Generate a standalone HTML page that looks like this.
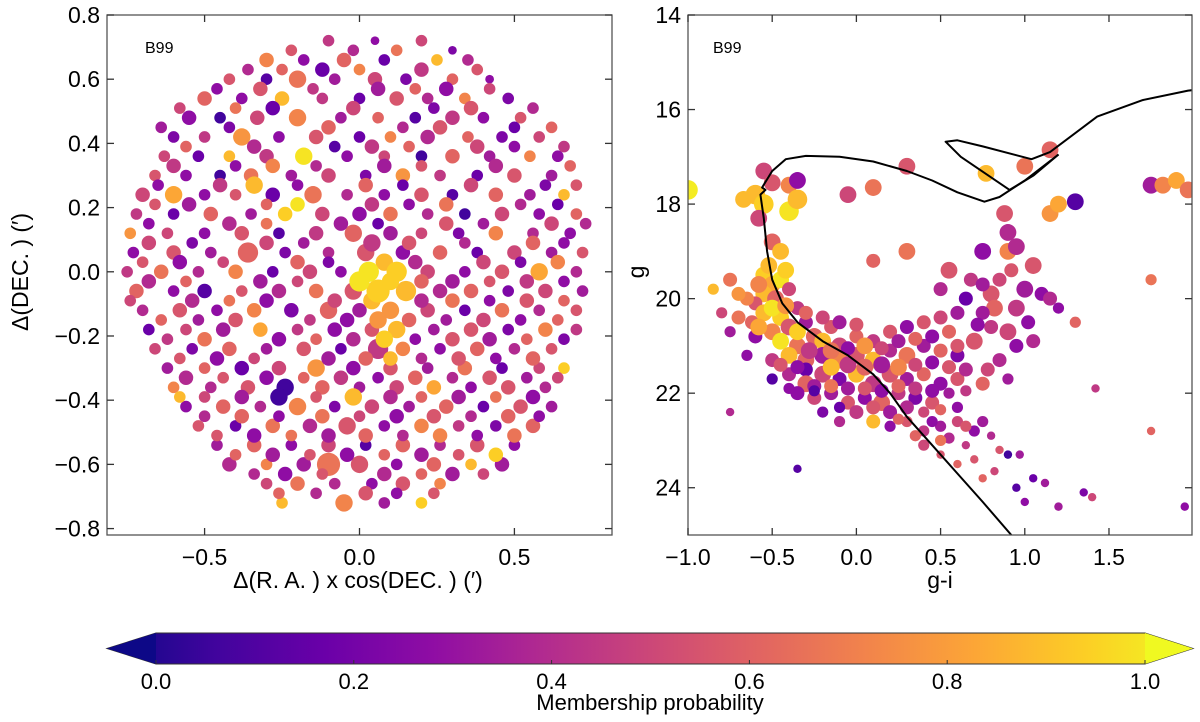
<!DOCTYPE html>
<html><head><meta charset="utf-8">
<style>
html,body{margin:0;padding:0;background:#fff;}
svg{display:block;font-family:"Liberation Sans","DejaVu Sans",sans-serif;}
</style></head>
<body>
<svg id="fig" width="1200" height="722" viewBox="0 0 1200 722" xmlns="http://www.w3.org/2000/svg">
<defs>
<clipPath id="clipL"><rect x="107" y="15" width="505" height="520"/></clipPath>
<clipPath id="clipR"><rect x="688" y="15" width="504" height="520"/></clipPath>
<linearGradient id="plasma" x1="0" x2="1" y1="0" y2="0">
<stop offset="0" stop-color="#0d0887"/><stop offset="0.1" stop-color="#41049d"/><stop offset="0.2" stop-color="#6a00a8"/><stop offset="0.3" stop-color="#8f0da4"/><stop offset="0.4" stop-color="#b12a90"/><stop offset="0.5" stop-color="#cc4778"/><stop offset="0.6" stop-color="#e16462"/><stop offset="0.7" stop-color="#f2844b"/><stop offset="0.8" stop-color="#fca636"/><stop offset="0.9" stop-color="#fcce25"/><stop offset="1" stop-color="#f0f921"/>
</linearGradient>
</defs>
<g id="leftPts" clip-path="url(#clipL)"></g>
<g id="rightPts" clip-path="url(#clipR)"></g>
<g id="iso" clip-path="url(#clipR)"></g>
<g id="axes"></g>
<text x="145" y="53" font-size="16">B99</text>
<text x="713" y="53" font-size="16">B99</text>
<text x="358" y="588" font-size="23" text-anchor="middle">Δ(R. A. ) x cos(DEC. ) (′)</text>
<text transform="translate(28,272) rotate(-90)" font-size="23" text-anchor="middle">Δ(DEC. ) (′)</text>
<text x="940" y="588" font-size="23" text-anchor="middle">g-i</text>
<text transform="translate(644,272) rotate(-90)" font-size="23" text-anchor="middle">g</text>
<g>
<polygon points="107,648.5 156,633 1145,633 1193,648.5 1145,664 156,664" fill="url(#plasma)" stroke="#333" stroke-width="1"/>
<polygon points="107,648.5 156,633 156,664" fill="#0d0887"/>
<polygon points="1193,648.5 1145,633 1145,664" fill="#f0f921"/>
<g id="cbTicks"></g>
<text x="650" y="710" font-size="22" text-anchor="middle">Membership probability</text>
</g>
</svg>
<script>
// ---- data ----
// left panel: [dRA, dDEC, probability, size]
const leftStars = [
[-0.1,0.72,0.45,4],[0.05,0.72,0.3,3],[0.2,0.72,0.5,4],
[-0.3,0.66,0.7,5],[-0.18,0.66,0.3,4],[-0.05,0.66,0.6,5],[0.08,0.66,0.2,4],[0.25,0.66,0.85,4],[0.35,0.66,0.4,4],
[-0.42,0.6,0.55,4],[-0.3,0.6,0.15,4],[-0.2,0.6,0.65,6],[-0.08,0.6,0.35,4],[0.05,0.6,0.5,5],[0.15,0.6,0.25,4],[0.3,0.6,0.6,4],[0.42,0.6,0.3,3],
[-0.5,0.54,0.6,5],[-0.38,0.54,0.3,4],[-0.25,0.54,0.85,5],[-0.12,0.54,0.45,4],[0.0,0.54,0.2,4],[0.12,0.54,0.55,5],[0.22,0.54,0.4,4],[0.34,0.54,0.7,4],[0.48,0.54,0.25,4],
[-0.55,0.48,0.3,5],[-0.45,0.48,0.1,4],[-0.33,0.48,0.5,5],[-0.2,0.48,0.7,6],[-0.06,0.48,0.35,4],[0.06,0.48,0.6,4],[0.18,0.48,0.15,4],[0.3,0.48,0.45,5],[0.4,0.48,0.3,4],[0.52,0.48,0.55,4],
[-0.6,0.42,0.25,4],[-0.5,0.42,0.45,4],[-0.38,0.42,0.75,6],[-0.26,0.42,0.3,4],[-0.14,0.42,0.55,5],[0.0,0.42,0.2,4],[0.1,0.42,0.7,4],[0.22,0.42,0.4,5],[0.35,0.42,0.6,4],[0.46,0.42,0.25,4],[0.58,0.42,0.5,4],
[-0.63,0.36,0.5,4],[-0.52,0.36,0.2,4],[-0.42,0.36,0.85,4],[-0.3,0.36,0.45,5],[-0.18,0.36,0.95,6],[-0.04,0.36,0.3,4],[0.08,0.36,0.5,4],[0.2,0.36,0.1,4],[0.3,0.36,0.6,5],[0.42,0.36,0.35,4],[0.55,0.36,0.7,4],[0.64,0.36,0.3,4],
[-0.66,0.3,0.55,4],[-0.56,0.3,0.3,4],[-0.45,0.3,0.1,4],[-0.35,0.3,0.65,5],[-0.22,0.3,0.35,4],[-0.1,0.3,0.5,5],[0.02,0.3,0.25,4],[0.14,0.3,0.75,5],[0.26,0.3,0.45,4],[0.38,0.3,0.2,4],[0.5,0.3,0.55,5],[0.62,0.3,0.35,4],
[-0.7,0.24,0.5,5],[-0.6,0.24,0.8,6],[-0.5,0.24,0.3,4],[-0.4,0.24,0.55,4],[-0.28,0.24,0.2,5],[-0.15,0.24,0.65,6],[-0.04,0.24,0.4,4],[0.08,0.24,0.3,4],[0.2,0.24,0.55,5],[0.3,0.24,0.15,4],[0.44,0.24,0.6,5],[0.55,0.24,0.35,4],[0.66,0.24,0.85,4],
[-0.72,0.18,0.45,4],[-0.6,0.18,0.2,4],[-0.48,0.18,0.6,5],[-0.35,0.18,0.35,4],[-0.24,0.18,0.9,5],[-0.12,0.18,0.5,5],[0.0,0.18,0.3,5],[0.1,0.18,0.65,5],[0.22,0.18,0.4,4],[0.34,0.18,0.1,4],[0.46,0.18,0.5,5],[0.58,0.18,0.3,4],[0.7,0.18,0.6,4],
[-0.74,0.12,0.75,4],[-0.62,0.12,0.5,4],[-0.5,0.12,0.3,4],[-0.38,0.12,0.55,5],[-0.26,0.12,0.15,4],[-0.14,0.12,0.45,5],[-0.02,0.12,0.6,6],[0.1,0.12,0.35,5],[0.2,0.12,0.5,4],[0.32,0.12,0.25,4],[0.44,0.12,0.7,5],[0.56,0.12,0.4,4],[0.68,0.12,0.3,4],
[-0.73,0.06,0.3,4],[-0.6,0.06,0.55,5],[-0.48,0.06,0.35,4],[-0.36,0.06,0.6,7],[-0.24,0.06,0.25,4],[-0.1,0.06,0.4,4],[0.02,0.06,0.55,6],[0.14,0.06,0.3,5],[0.26,0.06,0.6,5],[0.38,0.06,0.2,4],[0.5,0.06,0.5,5],[0.62,0.06,0.35,4],[0.72,0.06,0.55,4],
[-0.75,0.0,0.45,4],[-0.64,0.0,0.65,5],[-0.52,0.0,0.4,4],[-0.4,0.0,0.7,5],[-0.28,0.0,0.2,4],[-0.16,0.0,0.5,5],[-0.06,0.0,0.3,4],[0.22,0.0,0.5,5],[0.34,0.0,0.3,4],[0.46,0.0,0.55,5],[0.58,0.0,0.8,6],[0.7,0.0,0.4,4],
[-0.72,-0.06,0.6,5],[-0.6,-0.06,0.3,4],[-0.5,-0.06,0.15,5],[-0.38,-0.06,0.55,4],[-0.26,-0.06,0.4,5],[-0.14,-0.06,0.65,5],[-0.02,-0.06,0.55,6],[0.26,-0.06,0.4,5],[0.36,-0.06,0.6,5],[0.48,-0.06,0.25,4],[0.6,-0.06,0.5,5],[0.72,-0.06,0.35,4],
[-0.7,-0.12,0.4,4],[-0.58,-0.12,0.55,5],[-0.46,-0.12,0.3,4],[-0.34,-0.12,0.7,5],[-0.22,-0.12,0.25,5],[-0.1,-0.12,0.6,6],[0.0,-0.12,0.35,5],[0.1,-0.12,0.75,6],[0.22,-0.12,0.5,5],[0.34,-0.12,0.2,4],[0.46,-0.12,0.65,5],[0.58,-0.12,0.4,4],[0.7,-0.12,0.55,4],
[-0.68,-0.18,0.2,4],[-0.56,-0.18,0.5,4],[-0.44,-0.18,0.35,5],[-0.32,-0.18,0.8,5],[-0.2,-0.18,0.45,4],[-0.08,-0.18,0.3,5],[0.04,-0.18,0.55,5],[0.12,-0.18,0.85,6],[0.24,-0.18,0.35,4],[0.36,-0.18,0.55,5],[0.48,-0.18,0.25,4],[0.6,-0.18,0.7,5],[0.7,-0.18,0.45,4],
[-0.66,-0.24,0.5,4],[-0.54,-0.24,0.25,4],[-0.42,-0.24,0.6,5],[-0.3,-0.24,0.35,4],[-0.18,-0.24,0.55,5],[-0.06,-0.24,0.2,4],[0.06,-0.24,0.45,7],[0.14,-0.24,0.7,5],[0.26,-0.24,0.3,4],[0.38,-0.24,0.6,5],[0.5,-0.24,0.4,4],[0.62,-0.24,0.55,4],
[-0.62,-0.3,0.35,4],[-0.5,-0.3,0.6,4],[-0.38,-0.3,0.2,5],[-0.26,-0.3,0.5,5],[-0.14,-0.3,0.75,6],[-0.02,-0.3,0.3,5],[0.1,-0.3,0.55,5],[0.22,-0.3,0.35,4],[0.34,-0.3,0.65,5],[0.46,-0.3,0.2,4],[0.58,-0.3,0.5,4],[0.66,-0.3,0.9,4],
[-0.6,-0.36,0.7,4],[-0.48,-0.36,0.4,4],[-0.36,-0.36,0.55,5],[-0.24,-0.36,0.1,6],[-0.12,-0.36,0.6,5],[0.0,-0.36,0.35,4],[0.12,-0.36,0.5,5],[0.24,-0.36,0.8,5],[0.36,-0.36,0.3,4],[0.48,-0.36,0.55,5],[0.6,-0.36,0.4,4],
[-0.56,-0.42,0.3,4],[-0.44,-0.42,0.6,5],[-0.32,-0.42,0.4,4],[-0.2,-0.42,0.7,6],[-0.08,-0.42,0.25,4],[0.04,-0.42,0.5,5],[0.16,-0.42,0.35,4],[0.28,-0.42,0.6,5],[0.4,-0.42,0.2,4],[0.52,-0.42,0.55,5],[0.62,-0.42,0.35,4],
[-0.52,-0.48,0.55,4],[-0.4,-0.48,0.2,4],[-0.28,-0.48,0.65,5],[-0.16,-0.48,0.4,5],[-0.04,-0.48,0.55,6],[0.08,-0.48,0.3,4],[0.2,-0.48,0.7,5],[0.32,-0.48,0.45,4],[0.44,-0.48,0.25,4],[0.56,-0.48,0.6,5],
[-0.46,-0.54,0.35,4],[-0.34,-0.54,0.6,5],[-0.22,-0.54,0.3,4],[-0.1,-0.54,0.5,5],[0.02,-0.54,0.15,4],[0.14,-0.54,0.6,5],[0.26,-0.54,0.4,4],[0.38,-0.54,0.55,5],[0.5,-0.54,0.3,4],
[-0.42,-0.6,0.4,5],[-0.3,-0.6,0.7,4],[-0.18,-0.6,0.35,5],[-0.1,-0.6,0.65,8],[0.0,-0.6,0.55,6],[0.12,-0.6,0.3,4],[0.24,-0.6,0.6,5],[0.36,-0.6,0.85,4],[0.46,-0.6,0.35,5],
[-0.3,-0.66,0.5,4],[-0.2,-0.66,0.65,5],[-0.08,-0.66,0.4,4],[0.04,-0.66,0.3,4],[0.14,-0.66,0.55,5],[0.26,-0.66,0.7,4],
[-0.25,-0.72,0.85,4],[-0.05,-0.72,0.7,6],[0.08,-0.72,0.35,4],[0.2,-0.72,0.9,4],
[-0.22,0.69,0.55,4],[-0.02,0.69,0.4,4],[0.12,0.69,0.65,4],[0.3,0.69,0.25,3],
[-0.36,0.63,0.4,4],[-0.25,0.63,0.6,4],[-0.12,0.63,0.2,5],[0.0,0.63,0.7,4],[0.2,0.63,0.45,5],[0.38,0.63,0.55,4],
[-0.46,0.57,0.3,4],[-0.32,0.57,0.55,5],[-0.15,0.57,0.45,4],[0.06,0.57,0.35,5],[0.18,0.57,0.6,4],[0.28,0.57,0.3,5],[0.42,0.57,0.5,4],
[-0.58,0.51,0.5,4],[-0.4,0.51,0.65,4],[-0.28,0.51,0.2,5],[-0.02,0.51,0.5,5],[0.24,0.51,0.25,4],[0.36,0.51,0.55,5],[0.56,0.51,0.4,4],
[-0.64,0.45,0.35,4],[-0.42,0.45,0.25,4],[-0.1,0.45,0.6,5],[0.14,0.45,0.4,4],[0.26,0.45,0.55,5],[0.5,0.45,0.2,4],[0.62,0.45,0.6,4],
[-0.56,0.39,0.6,4],[-0.34,0.39,0.4,5],[-0.08,0.39,0.15,4],[0.04,0.39,0.45,5],[0.16,0.39,0.6,4],[0.38,0.39,0.5,5],[0.5,0.39,0.3,4],[0.66,0.39,0.45,4],
[-0.6,0.33,0.45,5],[-0.4,0.33,0.3,4],[-0.28,0.33,0.7,5],[-0.14,0.33,0.4,4],[0.08,0.33,0.35,5],[0.2,0.33,0.55,4],[0.44,0.33,0.4,5],[0.68,0.33,0.6,4],
[-0.65,0.27,0.3,4],[-0.45,0.27,0.45,5],[-0.34,0.27,0.85,6],[-0.2,0.27,0.3,4],[0.02,0.27,0.6,5],[0.14,0.27,0.2,4],[0.36,0.27,0.5,5],[0.6,0.27,0.25,4],[0.7,0.27,0.55,4],
[-0.66,0.21,0.55,4],[-0.55,0.21,0.35,5],[-0.3,0.21,0.6,4],[-0.2,0.21,0.95,5],[0.04,0.21,0.45,5],[0.16,0.21,0.3,4],[0.28,0.21,0.65,5],[0.52,0.21,0.4,4],[0.64,0.21,0.2,4],
[-0.68,0.15,0.3,4],[-0.42,0.15,0.4,5],[-0.3,0.15,0.65,4],[-0.06,0.15,0.35,5],[0.06,0.15,0.2,4],[0.28,0.15,0.55,5],[0.4,0.15,0.35,4],[0.62,0.15,0.5,5],[0.73,0.15,0.4,4],
[-0.68,0.09,0.5,5],[-0.54,0.09,0.25,4],[-0.3,0.09,0.5,5],[-0.18,0.09,0.35,4],[0.04,0.09,0.45,6],[0.16,0.09,0.55,5],[0.34,0.09,0.4,4],[0.56,0.09,0.6,5],[0.66,0.09,0.3,4],
[-0.7,0.03,0.55,4],[-0.58,0.03,0.3,5],[-0.44,0.03,0.5,4],[-0.2,0.03,0.6,5],[-0.1,0.03,0.25,4],[0.08,0.03,0.85,6],[0.18,0.03,0.4,5],[0.4,0.03,0.5,5],[0.52,0.03,0.25,4],[0.64,0.03,0.7,5],
[-0.68,-0.03,0.4,5],[-0.56,-0.03,0.6,4],[-0.32,-0.03,0.35,5],[-0.2,-0.03,0.5,4],[0.2,-0.03,0.6,5],[0.3,-0.03,0.35,5],[0.42,-0.03,0.55,4],[0.54,-0.03,0.45,5],[0.66,-0.03,0.3,4],
[-0.74,-0.09,0.5,4],[-0.54,-0.09,0.4,5],[-0.42,-0.09,0.65,4],[-0.3,-0.09,0.3,5],[-0.08,-0.09,0.5,5],[0.04,-0.09,0.85,6],[0.2,-0.09,0.4,5],[0.3,-0.09,0.65,5],[0.42,-0.09,0.3,4],[0.54,-0.09,0.55,5],[0.66,-0.09,0.6,4],
[-0.64,-0.15,0.6,4],[-0.52,-0.15,0.35,4],[-0.4,-0.15,0.55,5],[-0.16,-0.15,0.45,4],[-0.04,-0.15,0.3,5],[0.06,-0.15,0.75,6],[0.16,-0.15,0.6,5],[0.28,-0.15,0.35,4],[0.4,-0.15,0.5,5],[0.52,-0.15,0.3,4],[0.64,-0.15,0.6,4],
[-0.62,-0.21,0.45,4],[-0.5,-0.21,0.65,5],[-0.26,-0.21,0.3,5],[-0.14,-0.21,0.6,4],[-0.02,-0.21,0.4,5],[0.08,-0.21,0.9,6],[0.18,-0.21,0.3,4],[0.3,-0.21,0.55,5],[0.42,-0.21,0.35,5],[0.54,-0.21,0.6,4],[0.66,-0.21,0.25,4],
[-0.58,-0.27,0.55,4],[-0.46,-0.27,0.3,5],[-0.34,-0.27,0.5,4],[-0.1,-0.27,0.35,5],[0.02,-0.27,0.6,5],[0.1,-0.27,0.85,5],[0.2,-0.27,0.4,4],[0.32,-0.27,0.55,5],[0.44,-0.27,0.3,4],[0.56,-0.27,0.6,5],
[-0.56,-0.33,0.4,5],[-0.44,-0.33,0.55,4],[-0.3,-0.33,0.3,5],[-0.18,-0.33,0.6,4],[-0.06,-0.33,0.45,5],[0.06,-0.33,0.3,4],[0.18,-0.33,0.6,5],[0.3,-0.33,0.4,4],[0.42,-0.33,0.55,5],[0.54,-0.33,0.35,4],[0.64,-0.33,0.5,4],
[-0.58,-0.39,0.85,4],[-0.5,-0.39,0.5,4],[-0.38,-0.39,0.35,5],[-0.26,-0.39,0.1,6],[-0.14,-0.39,0.55,4],[-0.02,-0.39,0.85,6],[0.1,-0.39,0.4,5],[0.2,-0.39,0.6,4],[0.32,-0.39,0.35,5],[0.44,-0.39,0.65,4],[0.56,-0.39,0.3,5],
[-0.5,-0.45,0.4,4],[-0.38,-0.45,0.6,5],[-0.26,-0.45,0.3,4],[-0.12,-0.45,0.65,5],[0.0,-0.45,0.5,4],[0.12,-0.45,0.3,5],[0.24,-0.45,0.55,5],[0.36,-0.45,0.4,4],[0.48,-0.45,0.6,5],[0.58,-0.45,0.3,4],
[-0.46,-0.51,0.55,4],[-0.34,-0.51,0.3,5],[-0.22,-0.51,0.65,4],[-0.1,-0.51,0.35,5],[0.02,-0.51,0.6,5],[0.14,-0.51,0.4,4],[0.26,-0.51,0.7,5],[0.38,-0.51,0.3,4],[0.5,-0.51,0.65,5],
[-0.4,-0.57,0.6,4],[-0.28,-0.57,0.35,5],[-0.16,-0.57,0.55,4],[-0.04,-0.57,0.3,5],[0.08,-0.57,0.6,4],[0.2,-0.57,0.35,5],[0.32,-0.57,0.55,4],[0.44,-0.57,0.9,5],
[-0.34,-0.63,0.4,4],[-0.24,-0.63,0.3,5],[-0.12,-0.63,0.55,4],[0.08,-0.63,0.4,5],[0.2,-0.63,0.6,4],[0.3,-0.63,0.35,5],[0.4,-0.63,0.5,4],
[-0.26,-0.69,0.6,4],[-0.14,-0.69,0.4,4],[0.02,-0.69,0.55,5],[0.12,-0.69,0.3,4],[0.24,-0.69,0.55,4],
[0.03,0.0,0.95,7],[0.12,0.0,0.9,7],[0.06,-0.06,0.9,8],[0.15,-0.06,0.85,7],[0.0,-0.03,0.95,7],[0.1,-0.03,0.9,6]
];
// right panel: [g-i, g, probability, size]
const cmdStars = [
[-1.0,17.7,0.97,7],[-0.55,17.3,0.5,6],[-0.5,17.55,0.55,6],[-0.4,17.6,0.7,6],[-0.35,17.5,0.3,6],[-0.05,17.8,0.5,6],[0.1,17.65,0.65,6],[0.3,17.2,0.55,6],[0.77,17.35,0.85,6],[1.0,17.2,0.65,6],[1.15,16.85,0.6,6],[0.88,18.2,0.55,6],[0.9,18.6,0.4,6],[1.15,18.2,0.75,6],[1.3,17.95,0.15,6],[1.75,17.6,0.35,6],[1.82,17.6,0.7,6],[1.9,17.5,0.8,6],[1.97,17.7,0.65,6],[1.2,18.0,0.8,6],
[-0.67,17.9,0.85,6],[-0.6,17.8,0.85,7],[-0.55,18.0,0.9,7],[-0.4,18.15,0.95,7],[-0.35,17.9,0.85,7],[-0.58,18.3,0.5,6],[-0.5,18.8,0.6,6],[-0.45,19.0,0.85,6],
[-0.85,19.8,0.85,4],[-0.75,19.6,0.65,5],[0.1,19.2,0.6,5],[0.3,19.0,0.65,6],[0.55,19.4,0.55,6],[0.75,19.0,0.3,6],[0.9,19.0,0.7,6],[0.95,18.9,0.4,6],[0.85,19.6,0.5,5],[1.05,19.3,0.55,6],[0.65,20.0,0.2,5],[0.5,19.8,0.4,5],[0.8,19.9,0.55,6],[1.0,19.8,0.35,6],[1.1,19.9,0.3,5],[1.15,20.0,0.4,5],[0.95,20.2,0.45,6],[0.82,20.2,0.6,6],[0.75,20.3,0.35,5],[1.02,20.5,0.3,5],[0.9,20.7,0.5,6],[0.8,20.6,0.45,5],[0.7,20.9,0.55,6],[0.95,21.0,0.3,5],[0.85,21.3,0.4,5],[0.78,21.5,0.5,5],[0.9,21.7,0.35,4],[0.75,21.8,0.6,5],[1.2,20.2,0.3,4],[1.3,20.5,0.6,4],[1.75,19.6,0.65,4],[1.42,21.9,0.45,3],[1.75,22.8,0.6,3],[1.95,24.4,0.3,3],
[-0.55,19.5,0.9,6],[-0.5,19.7,0.8,6],[-0.45,19.6,0.95,6],[-0.4,19.8,0.5,5],[-0.55,19.9,0.85,6],[-0.48,20.0,0.6,6],[-0.6,20.1,0.55,5],[-0.35,20.2,0.45,5],
[-0.8,20.3,0.5,4],[-0.7,20.4,0.65,5],[-0.62,20.5,0.6,5],[-0.55,20.3,0.85,6],[-0.45,20.4,0.9,6],[-0.4,20.6,0.55,6],[-0.3,20.5,0.35,5],[-0.5,20.7,0.7,6],[-0.25,20.8,0.6,6],[-0.15,20.6,0.55,5],
[-0.75,20.7,0.35,4],[-0.6,20.8,0.3,5],[-0.45,20.9,0.95,6],[-0.35,21.0,0.65,6],[-0.2,20.9,0.85,6],[-0.1,21.0,0.5,6],[0.0,20.8,0.6,5],[0.1,20.9,0.45,5],[0.2,20.7,0.55,5],[0.3,20.6,0.3,5],[0.4,20.5,0.55,5],[0.5,20.4,0.5,5],[0.6,20.3,0.35,5],
[-0.65,21.2,0.3,4],[-0.5,21.3,0.45,5],[-0.4,21.2,0.85,6],[-0.3,21.3,0.6,6],[-0.2,21.2,0.35,6],[-0.1,21.3,0.7,6],[0.0,21.2,0.55,6],[0.1,21.3,0.85,6],[0.2,21.1,0.4,5],[0.3,21.2,0.65,6],[0.4,21.0,0.35,5],[0.5,21.1,0.6,5],[0.6,21.2,0.25,5],[-0.3,21.5,0.2,5],
[-0.5,21.7,0.15,4],[-0.4,21.6,0.4,5],[-0.3,21.8,0.6,6],[-0.2,21.6,0.5,6],[-0.1,21.7,0.25,5],[0.0,21.6,0.85,6],[0.1,21.8,0.45,6],[0.2,21.6,0.55,6],[0.3,21.7,0.35,5],[0.4,21.6,0.6,5],[0.5,21.8,0.3,5],[0.6,21.7,0.55,5],[-0.05,21.9,0.35,5],
[-0.35,22.0,0.3,5],[-0.25,22.1,0.5,5],[-0.15,22.0,0.35,5],[-0.05,22.2,0.55,5],[0.05,22.1,0.3,5],[0.15,22.2,0.6,6],[0.25,22.0,0.45,5],[0.35,22.1,0.25,5],[0.45,22.2,0.55,5],[0.55,22.0,0.35,4],[0.0,22.4,0.45,5],[0.2,22.4,0.35,5],[0.4,22.4,0.5,4],[-0.2,22.4,0.25,4],
[-0.1,22.6,0.4,4],[0.1,22.6,0.85,5],[0.2,22.7,0.3,4],[0.3,22.6,0.55,4],[0.4,22.8,0.45,4],[0.5,22.7,0.35,4],[0.6,22.6,0.5,4],[0.7,22.8,0.3,4],[0.35,22.9,0.6,4],[0.55,22.95,0.4,4],[0.85,23.2,0.55,3],[0.8,22.9,0.4,3],
[0.4,23.1,0.5,4],[0.5,23.3,0.55,3],[0.6,23.5,0.6,3],[0.7,23.4,0.55,3],[0.82,23.65,0.5,3],[0.75,23.8,0.6,3],[0.9,23.3,0.1,3],[0.97,23.3,0.35,3],[1.05,23.8,0.2,3],[1.12,23.9,0.35,3],[1.35,24.1,0.25,3],[1.2,24.4,0.35,3],[1.4,24.2,0.5,3],[0.95,24.0,0.15,3],[-0.35,23.6,0.15,3],[-0.75,22.4,0.4,3],[1.0,24.3,0.3,3],
[-0.52,19.3,0.85,6],[-0.42,19.4,0.9,6],[-0.58,19.7,0.7,6],[-0.5,20.2,0.95,6],[-0.42,20.15,0.75,6],[-0.58,20.6,0.8,6],[-0.35,20.7,0.9,6],[-0.28,21.1,0.45,6],[-0.15,21.1,0.65,6],[-0.05,21.05,0.3,5],[0.05,21.0,0.75,6],[0.15,21.05,0.5,5],[0.25,20.9,0.35,5],[0.35,20.85,0.6,5],[0.45,20.8,0.3,5],[0.55,20.7,0.6,5],
[-0.45,21.4,0.55,5],[-0.35,21.45,0.3,5],[-0.15,21.45,0.85,6],[-0.05,21.4,0.45,6],[0.05,21.45,0.6,6],[0.15,21.4,0.35,6],[0.25,21.45,0.7,6],[0.35,21.4,0.5,5],[0.45,21.35,0.3,5],[0.55,21.45,0.55,5],[0.65,21.5,0.4,5],
[-0.25,21.85,0.35,5],[-0.15,21.85,0.65,5],[0.05,21.9,0.55,5],[0.15,21.95,0.3,5],[0.25,21.85,0.6,5],[0.35,21.9,0.45,5],[0.45,21.95,0.3,5],[0.65,21.95,0.45,4],
[-0.1,22.3,0.2,4],[0.1,22.3,0.55,5],[0.3,22.3,0.4,5],[0.5,22.35,0.6,4],[0.6,22.3,0.3,4],[0.25,22.55,0.6,4],[0.45,22.6,0.3,4],[0.65,22.7,0.55,4],[0.75,22.6,0.35,4],[0.5,23.0,0.65,4],[0.65,23.1,0.45,3],
[-0.25,21.95,0.15,4],[-0.4,21.9,0.3,4],[-0.3,20.3,0.6,5],[-0.2,20.4,0.5,5],[-0.1,20.5,0.35,5],[0.0,20.55,0.55,5],[0.72,20.55,0.3,5],[0.68,19.6,0.45,5],[0.92,19.4,0.55,5],[0.75,19.7,0.35,5],[1.05,20.9,0.4,5],[0.6,21.0,0.55,5],[-0.65,20.0,0.7,5],[-0.7,19.9,0.75,5]
];
// isochrone branches: g-i and g
const isoMainColor = [0.92,0.75,0.6,0.45,0.3,0.2,0.1,-0.05,-0.2,-0.35,-0.44,-0.5,-0.53,-0.55,-0.57,-0.54,-0.56,-0.5,-0.42,-0.3,-0.1,0.1,0.3,0.45,0.6,0.76,0.85,1.0,1.2];
const isoMainMag   = [25.0,24.3,23.7,23.1,22.5,22.0,21.6,21.2,20.9,20.5,20.1,19.6,19.0,18.3,17.8,17.7,17.65,17.3,17.05,16.98,17.0,17.1,17.3,17.5,17.75,17.95,17.85,17.5,16.95];
const isoLoopColor = [1.2,1.05,0.91,0.62,0.53,0.6,0.75,1.04,1.15,1.43,1.7,1.97,2.1];
const isoLoopMag   = [16.95,17.4,17.7,17.0,16.68,16.65,16.78,17.05,16.9,16.15,15.8,15.6,15.55];
// tick labels
const leftXTicks = [-0.5,0.0,0.5];
const leftYTicks = [0.8,0.6,0.4,0.2,0.0,-0.2,-0.4,-0.6,-0.8];
const rightXTicks = [-1.0,-0.5,0.0,0.5,1.0,1.5];
const rightYTicks = [14,16,18,20,22,24];
const cbTicks = [0.0,0.2,0.4,0.6,0.8,1.0];

// ---- scales ----
const NS='http://www.w3.org/2000/svg';
const L={x0:107,x1:612,y0:15,y1:535,xmin:-0.815,xmax:0.815,ymin:-0.82,ymax:0.8};
const R={x0:688,x1:1192,y0:15,y1:535,xmin:-1.0,xmax:1.993,ymin:14,ymax:25};
const lx=v=>L.x0+(v-L.xmin)/(L.xmax-L.xmin)*(L.x1-L.x0);
const ly=v=>L.y1-(v-L.ymin)/(L.ymax-L.ymin)*(L.y1-L.y0);
const rx=v=>R.x0+(v-R.xmin)/(R.xmax-R.xmin)*(R.x1-R.x0);
const ry=v=>R.y0+(v-R.ymin)/(R.ymax-R.ymin)*(R.y1-R.y0);
const cbx=v=>156+v*(1145-156);
const stops=[[13,8,135],[65,4,157],[106,0,168],[143,13,164],[177,42,144],[204,71,120],[225,100,98],[242,132,75],[252,166,54],[252,206,37],[240,249,33]];
function plasma(p){p=Math.max(0,Math.min(1,p));const t=p*10,i=Math.min(9,Math.floor(t)),f=t-i;const a=stops[i],b=stops[i+1];
return 'rgb('+a.map((c,k)=>Math.round(c+(b[k]-c)*f)).join(',')+')';}
function mk(tag,attrs,parent){const e=document.createElementNS(NS,tag);for(const k in attrs)e.setAttribute(k,attrs[k]);parent.appendChild(e);return e;}
const fmt=v=>(v<0?'\u2212':'')+Math.abs(v).toFixed(1);

// ---- scatter ----
const gL=document.getElementById('leftPts');
leftStars.forEach(s=>{
  const c=mk('circle',{cx:lx(s[0]),cy:ly(s[1]),r:s[3]*1.45,fill:plasma(s[2])},gL);
  
  
});
const gR=document.getElementById('rightPts');
cmdStars.forEach(s=>{
  const c=mk('circle',{cx:rx(s[0]),cy:ry(s[1]),r:s[3]*1.4,fill:plasma(s[2])},gR);
  
  
});
const gI=document.getElementById('iso');
[[isoMainColor,isoMainMag],[isoLoopColor,isoLoopMag]].forEach(([cs,ms])=>{
  const d=cs.map((c,i)=>(i?'L':'M')+rx(c).toFixed(1)+','+ry(ms[i]).toFixed(1)).join(' ');
  const p=mk('path',{d:d,fill:'none',stroke:'#000','stroke-width':2,'stroke-linejoin':'round'},gI);
  
  
});

// ---- axes ----
const ax=document.getElementById('axes');
function frame(P,xt,yt,fx,fy,name,yfmt){
  const r=mk('rect',{x:P.x0,y:P.y0,width:P.x1-P.x0,height:P.y1-P.y0,fill:'none',stroke:'#555','stroke-width':1.3},ax);
  
  
  xt.forEach(v=>{const x=fx(v);
    mk('line',{x1:x,x2:x,y1:P.y1,y2:P.y1-7,stroke:'#333','stroke-width':1.3},ax);
    mk('line',{x1:x,x2:x,y1:P.y0,y2:P.y0+7,stroke:'#333','stroke-width':1.3},ax);
    const t=mk('text',{x:x,y:P.y1+30,'font-size':23,'text-anchor':'middle'},ax);t.textContent=fmt(v);
    
    
  });
  yt.forEach(v=>{const y=fy(v);
    mk('line',{x1:P.x0,x2:P.x0+7,y1:y,y2:y,stroke:'#333','stroke-width':1.3},ax);
    mk('line',{x1:P.x1,x2:P.x1-7,y1:y,y2:y,stroke:'#333','stroke-width':1.3},ax);
    const t=mk('text',{x:P.x0-7,y:y+8,'font-size':23,'text-anchor':'end'},ax);t.textContent=yfmt(v);
    
    
  });
}
frame(L,leftXTicks,leftYTicks,lx,ly,'left-panel',fmt);
frame(R,rightXTicks,rightYTicks,rx,ry,'right-panel',v=>String(v));

const cbg=document.getElementById('cbTicks');
cbTicks.forEach(v=>{const x=cbx(v);
  mk('line',{x1:x,x2:x,y1:664,y2:660,stroke:'#333','stroke-width':1},cbg);
  const t=mk('text',{x:x,y:689,'font-size':22,'text-anchor':'middle'},cbg);t.textContent=v.toFixed(1);
  
  
});
</script>
</body></html>
